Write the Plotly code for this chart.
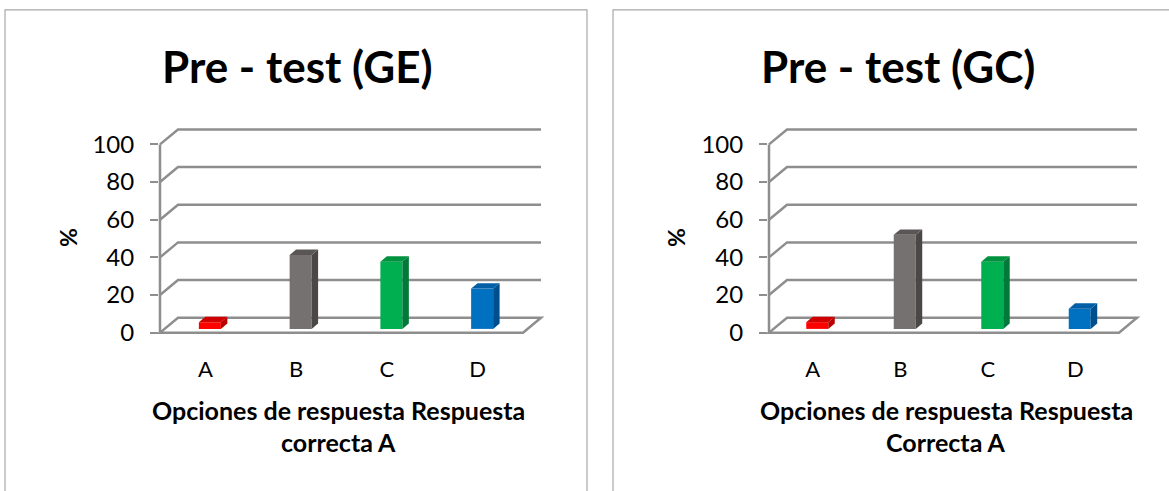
import plotly.graph_objects as go

W, H = 1169, 491

categories = ["A", "B", "C", "D"]
ge_values = [3.57, 39.29, 35.71, 21.43]
gc_values = [3.57, 50.0, 35.71, 10.71]
y_ticks = [0, 20, 40, 60, 80, 100]
front_colors = ["#FF0000", "#767171", "#00B050", "#0070C0"]
side_colors = ["#B80000", "#4B4747", "#00793A", "#004F8C"]
top_colors = ["#D00000", "#5A5656", "#00923F", "#005FA6"]

titles = ["Pre - test (GE)", "Pre - test (GC)"]
xtitles = [["Opciones de respuesta Respuesta", "correcta A"],
           ["Opciones de respuesta Respuesta", "Correcta A"]]

FONT = "Lato, Calibri, Carlito, sans-serif"
GRID = "#8E8E8E"

# layout geometry (pixels)
panels = [
    dict(front_left=160, cat_px=90.75, title_x=297, pct_x=68, xt_x=338,
         box=(5, 587)),
    dict(front_left=769, cat_px=87.5, title_x=898, pct_x=676, xt_x=946,
         box=(613, 1185)),
]
Y0_PX = 334          # pixel row of value 0 on the front plane
SY = 1.89            # pixels per % unit
DEPTH_X, DEPTH_Y = 18, 15   # 3D depth offset in pixels
XR = (-1.0, 4.0)
YR = (-6, 116)

fig = go.Figure()
shapes = []
annotations = []

for k, (p, vals) in enumerate(zip(panels, [ge_values, gc_values])):
    sx = p["cat_px"]
    xa = "xaxis" if k == 0 else "xaxis2"
    ya = "yaxis" if k == 0 else "yaxis2"
    xr = "x" if k == 0 else "x2"
    yr = "y" if k == 0 else "y2"

    px0 = p["front_left"] + (XR[0] + 0.5) * sx
    px1 = p["front_left"] + (XR[1] + 0.5) * sx
    py_bot = Y0_PX - YR[0] * SY
    py_top = Y0_PX - YR[1] * SY

    ddx = DEPTH_X / sx
    ddy = DEPTH_Y / SY
    d0 = 0.25   # depth of bar front face
    dd = 0.36   # bar thickness in depth
    bw = 22 / sx

    fig.update_layout(**{
        xa: dict(domain=[px0 / W, px1 / W], range=list(XR), anchor="free",
                 position=(H - 355) / H, tickvals=list(range(len(categories))),
                 ticktext=categories, showgrid=False, zeroline=False,
                 showline=False, ticks="", tickfont=dict(size=22, color="#000", family=FONT),
                 fixedrange=True),
        ya: dict(domain=[(H - py_bot) / H, (H - py_top) / H], range=list(YR),
                 anchor="free", position=(p["front_left"] - 2) / W,
                 tickvals=y_ticks, showgrid=False, zeroline=False, showline=False,
                 ticks="outside", ticklen=8, tickwidth=2, tickcolor=GRID,
                 ticklabelstandoff=11,
                 tickfont=dict(size=24, color="#000", family=FONT), fixedrange=True),
    })

    # back wall gridlines
    for v in y_ticks[1:]:
        shapes.append(dict(type="path", xref=xr, yref=yr, layer="below",
                           path=f"M -0.5,{v} L {-0.5 + ddx},{v + ddy} L {3.5 + ddx},{v + ddy}",
                           line=dict(color=GRID, width=2.5)))
    # floor
    shapes.append(dict(type="path", xref=xr, yref=yr, layer="below",
                       path=f"M -0.5,0 L 3.5,0 L {3.5 + ddx},{ddy} L {-0.5 + ddx},{ddy} Z",
                       line=dict(color=GRID, width=2.5)))
    # front vertical axis
    shapes.append(dict(type="line", xref=xr, yref=yr, layer="below",
                       x0=-0.5, x1=-0.5, y0=0, y1=y_ticks[-1],
                       line=dict(color=GRID, width=2.5)))

    # front faces
    xs = [i + d0 * ddx for i in range(len(categories))]
    fig.add_trace(go.Bar(x=xs, y=vals, base=d0 * ddy, width=bw,
                         marker=dict(color=front_colors, line=dict(width=0)),
                         xaxis=xr, yaxis=yr, showlegend=False, hoverinfo="skip"))
    # side and top faces
    for i, v in enumerate(vals):
        xl = xs[i] - bw / 2
        xrr = xs[i] + bw / 2
        b = d0 * ddy
        t = b + v
        side_x = [xrr, xrr + dd * ddx, xrr + dd * ddx, xrr, xrr]
        side_y = [b, b + dd * ddy, t + dd * ddy, t, b]
        top_x = [xl, xrr, xrr + dd * ddx, xl + dd * ddx, xl]
        top_y = [t, t, t + dd * ddy, t + dd * ddy, t]
        fig.add_trace(go.Scatter(x=side_x, y=side_y, fill="toself", mode="lines",
                                 line=dict(width=0, color=side_colors[i]),
                                 fillcolor=side_colors[i], xaxis=xr, yaxis=yr,
                                 showlegend=False, hoverinfo="skip"))
        fig.add_trace(go.Scatter(x=top_x, y=top_y, fill="toself", mode="lines",
                                 line=dict(width=0, color=top_colors[i]),
                                 fillcolor=top_colors[i], xaxis=xr, yaxis=yr,
                                 showlegend=False, hoverinfo="skip"))

    # panel border
    bx0, bx1 = p["box"]
    shapes.append(dict(type="rect", xref="paper", yref="paper",
                       x0=bx0 / W, x1=bx1 / W, y0=-0.1, y1=(H - 10) / H,
                       line=dict(color="#A8A8A8", width=1.2), fillcolor="rgba(0,0,0,0)"))

    annotations.append(dict(text=f"<b>{titles[k]}</b>", xref="paper", yref="paper",
                            x=p["title_x"] / W, y=(H - 66) / H, xanchor="center",
                            yanchor="middle", showarrow=False,
                            font=dict(size=44, color="#000", family=FONT)))
    annotations.append(dict(text="<b>%</b>", xref="paper", yref="paper",
                            x=p["pct_x"] / W, y=(H - 239) / H, textangle=-90,
                            xanchor="center", yanchor="middle", showarrow=False,
                            font=dict(size=23, color="#000", family=FONT)))
    for j, line in enumerate(xtitles[k]):
        annotations.append(dict(text=f"<b>{line}</b>", xref="paper", yref="paper",
                                x=p["xt_x"] / W, y=(H - (412 + 32 * j)) / H,
                                xanchor="center", yanchor="middle", showarrow=False,
                                font=dict(size=25, color="#000", family=FONT)))

fig.update_layout(width=W, height=H, margin=dict(l=0, r=0, t=0, b=0),
                  paper_bgcolor="white", plot_bgcolor="rgba(0,0,0,0)",
                  barmode="overlay", shapes=shapes, annotations=annotations,
                  showlegend=False)

fig.write_html("out.html", config={"displayModeBar": False})
